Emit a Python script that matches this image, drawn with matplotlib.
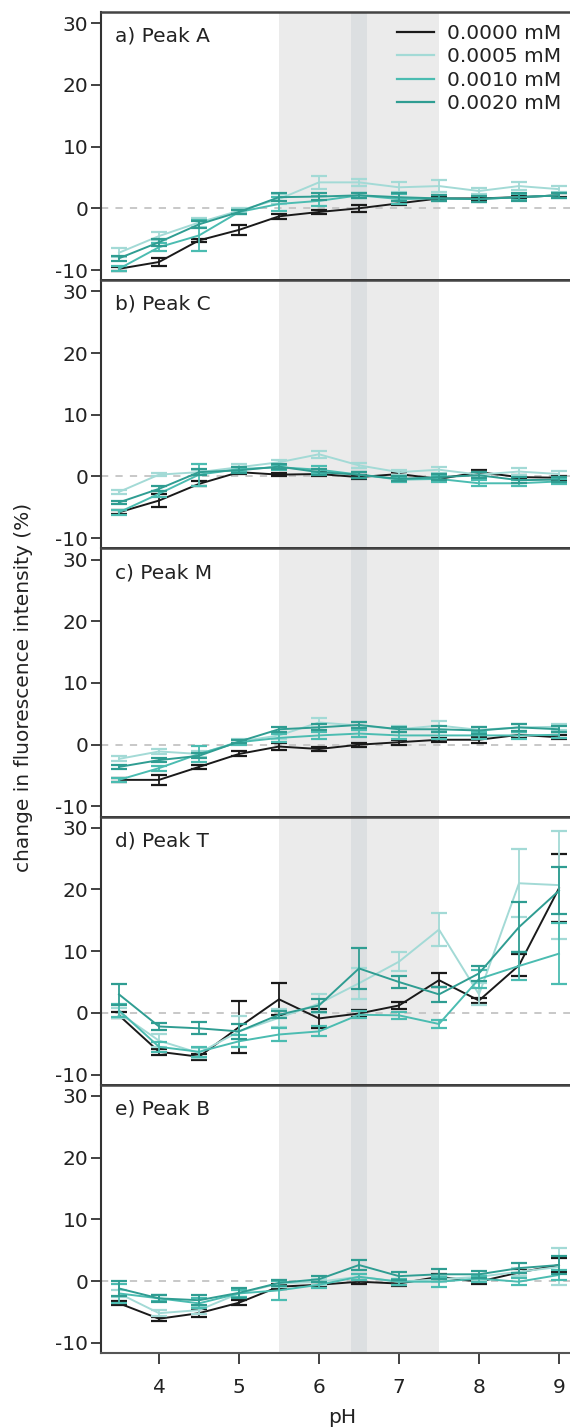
import matplotlib
matplotlib.use("Agg")
import matplotlib.pyplot as plt
from matplotlib.lines import Line2D

# pH values (x axis)
ph = [3.5, 4.0, 4.5, 5.0, 5.5, 6.0, 6.5, 7.0, 7.5, 8.0, 8.5, 9.0]

concentrations = ["0.0000 mM", "0.0005 mM", "0.0010 mM", "0.0020 mM"]
colors = ["#1a1a1a", "#a3dad6", "#4bbcb1", "#2f9d92"]
panel_titles = ["a) Peak A", "b) Peak C", "c) Peak M", "d) Peak T", "e) Peak B"]

# change in fluorescence intensity (%), one row per concentration
peak_a = [
    [-9.8, -8.7, -5.2, -3.5, -1.3, -0.6, 0.0, 0.8, 1.6, 1.6, 1.8, 2.1],
    [-7.2, -4.5, -2.3, -0.4, 1.5, 4.2, 4.2, 3.4, 3.6, 2.8, 3.6, 3.1],
    [-9.8, -6.3, -4.4, -0.6, 0.7, 1.2, 2.1, 1.5, 1.6, 1.5, 1.8, 2.1],
    [-8.1, -5.5, -2.6, -0.6, 1.8, 1.9, 2.1, 1.8, 1.6, 1.5, 1.8, 2.1],
]
peak_a_err = [
    [0.3, 0.7, 0.3, 0.8, 0.4, 0.3, 0.6, 0.3, 0.3, 0.3, 0.3, 0.3],
    [0.7, 0.6, 0.8, 0.4, 0.8, 1.0, 0.6, 0.8, 1.0, 0.5, 0.6, 0.5],
    [0.4, 0.6, 2.5, 0.4, 1.2, 0.8, 0.4, 0.8, 0.5, 0.5, 0.5, 0.4],
    [0.4, 0.6, 0.6, 0.4, 0.6, 0.6, 0.4, 0.6, 0.5, 0.5, 0.6, 0.4],
]

peak_c = [
    [-5.8, -3.9, -1.2, 0.7, 0.3, 0.4, -0.1, 0.4, -0.4, 0.7, -0.1, -0.2],
    [-2.5, 0.3, 0.7, 1.5, 2.3, 3.6, 1.8, 0.7, 1.1, 0.3, 0.8, 0.4],
    [-5.8, -2.8, 0.3, 1.2, 1.5, 1.1, 0.3, -0.5, -0.4, -1.1, -1.1, -0.8],
    [-4.2, -2.0, 0.7, 1.0, 1.6, 0.7, 0.3, -0.4, -0.1, 0.2, -0.6, -0.5],
]
peak_c_err = [
    [0.3, 1.1, 0.4, 0.3, 0.3, 0.3, 0.3, 0.3, 0.3, 0.3, 0.3, 0.3],
    [0.3, 0.3, 0.4, 0.5, 0.4, 0.6, 0.4, 0.4, 0.5, 0.4, 0.5, 0.5],
    [0.4, 0.5, 1.8, 0.4, 0.4, 0.6, 0.5, 0.4, 0.5, 0.5, 0.5, 0.4],
    [0.3, 0.4, 0.5, 0.5, 0.4, 0.5, 0.5, 0.4, 0.5, 0.5, 0.5, 0.4],
]

peak_m = [
    [-5.7, -5.7, -3.6, -1.5, -0.3, -0.7, 0.0, 0.4, 0.8, 0.8, 1.6, 1.2],
    [-2.3, -1.1, -1.5, 0.5, 1.5, 3.6, 3.1, 2.5, 3.1, 2.4, 2.8, 2.9],
    [-5.7, -3.8, -1.5, 0.4, 1.1, 1.5, 1.8, 1.5, 1.5, 1.5, 1.5, 1.6],
    [-3.6, -2.5, -1.8, 0.5, 2.5, 2.8, 3.2, 2.5, 2.5, 2.3, 2.8, 2.5],
]
peak_m_err = [
    [0.3, 0.8, 0.3, 0.4, 0.5, 0.3, 0.3, 0.4, 0.3, 0.5, 0.5, 0.3],
    [0.4, 0.4, 0.5, 0.4, 0.6, 0.8, 0.5, 0.5, 0.8, 0.5, 0.6, 0.5],
    [0.3, 0.4, 1.3, 0.4, 0.6, 0.5, 0.5, 0.6, 0.5, 0.5, 0.6, 0.5],
    [0.3, 0.3, 0.4, 0.3, 0.4, 0.5, 0.5, 0.4, 0.5, 0.6, 0.6, 0.5],
]

peak_t = [
    [-0.4, -6.3, -7.1, -2.3, 2.2, -0.9, -0.1, 1.2, 5.3, 2.0, 7.7, 20.2],
    [0.0, -4.5, -6.5, -3.0, -0.8, 1.5, 4.8, 8.3, 13.5, 3.0, 21.0, 20.7],
    [0.4, -5.5, -6.3, -4.6, -3.5, -3.0, -0.3, -0.4, -1.8, 5.5, 7.6, 9.6],
    [3.0, -2.2, -2.5, -3.0, -0.3, 1.2, 7.2, 5.0, 3.0, 6.4, 13.9, 19.8],
]
peak_t_err = [
    [0.5, 0.5, 0.5, 4.2, 2.6, 1.5, 0.5, 0.6, 1.1, 0.4, 1.8, 5.5],
    [0.8, 1.0, 0.8, 2.5, 1.5, 1.5, 2.5, 1.5, 2.7, 1.8, 5.5, 8.8],
    [1.0, 0.8, 0.8, 1.0, 1.0, 0.8, 0.6, 0.6, 0.6, 1.5, 2.2, 5.0],
    [1.7, 0.6, 1.0, 1.2, 0.6, 1.0, 3.3, 0.9, 1.2, 1.2, 4.1, 3.8],
]

peak_b = [
    [-3.6, -6.1, -5.2, -3.5, -0.9, -0.6, -0.1, -0.4, 0.7, -0.1, 1.4, 2.6],
    [-2.0, -5.2, -4.7, -2.0, -0.4, -0.1, 0.7, -0.1, 0.3, 0.7, 1.5, 2.3],
    [-2.0, -2.8, -3.6, -2.0, -1.5, -0.6, 0.7, -0.1, -0.1, 0.4, -0.1, 1.0],
    [-1.2, -2.8, -3.1, -1.9, -0.3, 0.3, 2.6, 0.8, 1.1, 1.1, 2.1, 2.6],
]
peak_b_err = [
    [0.3, 0.3, 0.6, 0.4, 0.4, 0.4, 0.3, 0.4, 0.4, 0.4, 0.5, 1.2],
    [0.5, 0.5, 0.6, 0.5, 0.5, 0.5, 0.5, 0.5, 0.5, 0.5, 0.6, 3.0],
    [1.5, 0.5, 0.8, 0.6, 1.5, 0.5, 0.5, 0.5, 0.8, 0.5, 0.6, 0.8],
    [1.2, 0.6, 0.8, 0.8, 0.5, 0.5, 0.8, 0.6, 0.8, 0.6, 0.8, 1.5],
]

panels = [peak_a, peak_c, peak_m, peak_t, peak_b]
panel_errs = [peak_a_err, peak_c_err, peak_m_err, peak_t_err, peak_b_err]

plt.rcParams["font.family"] = "DejaVu Sans"
plt.rcParams["font.size"] = 14.5
plt.rcParams["axes.unicode_minus"] = False

fig = plt.figure(figsize=(5.7, 14.28), dpi=100)

# layout in pixels: axes from x=101, 80 px per pH unit, panels 268 px tall
left = 101 / 570
width = 482 / 570
top = 1 - 12 / 1428
h = (1353 - 12) / 5 / 1428

axes = []
for i in range(5):
    ax = fig.add_axes([left, top - (i + 1) * h, width, h])
    axes.append(ax)

    ax.axvspan(5.5, 7.5, color="#ebebeb", lw=0, zorder=0)
    ax.axvspan(6.4, 6.6, color="#dcdfe1", lw=0, zorder=0)
    ax.axhline(0, color="#c4c4c4", lw=1.3, ls=(0, (4, 4)), zorder=1)

    for j in range(4):
        ax.errorbar(ph, panels[i][j], yerr=panel_errs[i][j], color=colors[j],
                    lw=1.4, elinewidth=1.3, capsize=6, capthick=1.6, zorder=3 + j)

    ax.set_xlim(3.275, 9.3)
    ax.set_ylim(-11.65, 31.8)
    ax.set_yticks([-10, 0, 10, 20, 30])
    ax.tick_params(axis="y", direction="out", length=7, width=1.3,
                   color="#333333", pad=2, labelcolor="#222222")

    ax.spines["right"].set_visible(False)
    ax.spines["left"].set_color("#333333")
    ax.spines["left"].set_linewidth(1.5)
    ax.spines["top"].set_color("#444444")
    ax.spines["top"].set_linewidth(1.8)
    ax.spines["bottom"].set_color("#111111")
    ax.spines["bottom"].set_linewidth(2.0)

    ax.text(0.03, 0.91, panel_titles[i], transform=ax.transAxes,
            ha="left", va="center", color="#222222")

    if i < 4:
        ax.tick_params(axis="x", bottom=False, labelbottom=False)
    else:
        ax.set_xticks([4, 5, 6, 7, 8, 9])
        ax.tick_params(axis="x", direction="out", length=8, width=1.3,
                       color="#333333", pad=10, labelcolor="#222222")
        ax.spines["bottom"].set_color("#555555")
        ax.spines["bottom"].set_linewidth(1.5)
        ax.set_xlabel("pH", labelpad=8, color="#222222")

handles = [Line2D([], [], color=c, lw=1.6) for c in colors]
axes[0].legend(handles, concentrations, loc="upper left",
               bbox_to_anchor=(0.614, 0.955), frameon=False, borderpad=0,
               borderaxespad=0, handlelength=1.85, handletextpad=0.65,
               labelspacing=0.22, fontsize=14.5, labelcolor="#222222")

fig.text(24 / 570, 1 - 687 / 1428, "change in fluorescence intensity (%)",
         rotation=90, ha="center", va="center", color="#222222")

fig.savefig("out.png", dpi=100)
